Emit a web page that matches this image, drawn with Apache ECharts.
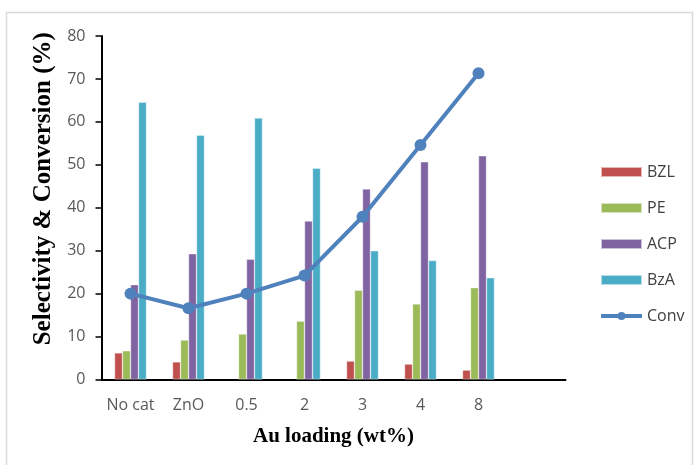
<!DOCTYPE html>
<html>
<head>
<meta charset="utf-8">
<script src="https://cdn.jsdelivr.net/npm/echarts@6/dist/echarts.min.js"></script>
<style>
  html, body { margin: 0; padding: 0; background: #fff; }
  #chart { width: 694px; height: 465px; }
</style>
</head>
<body>
<div id="chart"></div>
<script>
// Catalyst / Au loading categories (last slot left empty on purpose)
const categories = ["No cat", "ZnO", "0.5", "2", "3", "4", "8", ""];

// Product selectivities (%)
const bzl = [6.2, 4.1, null, null, 4.3, 3.6, 2.2, null];
const pe  = [6.7, 9.2, 10.6, 13.6, 20.8, 17.6, 21.4, null];
const acp = [22.1, 29.3, 28.0, 36.9, 44.4, 50.7, 52.1, null];
const bza = [64.6, 56.9, 60.9, 49.2, 30.0, 27.7, 23.7, null];

// Conversion (%)
const conv = [20.0, 16.6, 20.0, 24.2, 37.9, 54.6, 71.3, null];

// Y axis range
const yMin = 0, yMax = 80, yStep = 10;

const labelFont = "'Open Sans', 'Liberation Sans', sans-serif";
const titleFont = "'Liberation Serif', 'DejaVu Serif', serif";

function barSeries(name, data, color) {
  return {
    name: name,
    type: 'bar',
    data: data,
    barWidth: 8,
    barGap: '0%',
    itemStyle: { color: color, borderColor: 'rgba(255,255,255,0.6)', borderWidth: 0.6 }
  };
}

const chart = echarts.init(document.getElementById('chart'), null, { renderer: 'canvas' });
chart.setOption({
  animation: false,
  backgroundColor: '#ffffff',
  graphic: [{
    type: 'rect',
    shape: { x: 6.5, y: 12.5, width: 686, height: 470 },
    style: { fill: 'none', stroke: '#d9d9d9', lineWidth: 1.5 },
    silent: true
  }],
  grid: { left: 101.5, right: 128.5, top: 36, bottom: 85.5, containLabel: false },
  legend: {
    orient: 'vertical',
    left: 594,
    top: 159,
    itemWidth: 41,
    itemHeight: 10,
    itemGap: 20,
    textStyle: { fontFamily: labelFont, fontSize: 16, color: '#404040', lineHeight: 16 },
    data: [
      { name: 'BZL', icon: 'rect' },
      { name: 'PE', icon: 'rect' },
      { name: 'ACP', icon: 'rect' },
      { name: 'BzA', icon: 'rect' },
      { name: 'Conv', lineStyle: { width: 4 } }
    ]
  },
  xAxis: {
    type: 'category',
    data: categories,
    boundaryGap: true,
    name: 'Au loading (wt%)',
    nameLocation: 'middle',
    nameGap: 47,
    nameTextStyle: { fontFamily: titleFont, fontWeight: 'bold', fontSize: 21, color: '#000' },
    axisLine: { lineStyle: { color: '#000', width: 2 } },
    axisTick: { show: false },
    axisLabel: { fontFamily: labelFont, fontSize: 16, color: '#595959', margin: 18, interval: 0 }
  },
  yAxis: {
    type: 'value',
    min: yMin,
    max: yMax,
    interval: yStep,
    name: 'Selectivity & Conversion (%)',
    nameLocation: 'middle',
    nameGap: 40,
    nameTextStyle: {
      fontFamily: titleFont, fontWeight: 'bold', fontSize: 25, color: '#000',
      padding: [0, 0, 0, 38]
    },
    axisLine: { show: true, lineStyle: { color: '#000', width: 2 } },
    axisTick: { show: true, inside: false, length: 6, lineStyle: { color: '#000', width: 1.5 } },
    splitLine: { show: false },
    axisLabel: { fontFamily: labelFont, fontSize: 16, color: '#595959', margin: 16 }
  },
  series: [
    barSeries('BZL', bzl, '#c0504d'),
    barSeries('PE', pe, '#9bbb59'),
    barSeries('ACP', acp, '#8064a2'),
    barSeries('BzA', bza, '#4bacc6'),
    {
      name: 'Conv',
      type: 'line',
      data: conv,
      symbol: 'circle',
      symbolSize: 12,
      showSymbol: true,
      connectNulls: false,
      lineStyle: { color: '#4f81bd', width: 4 },
      itemStyle: { color: '#4f81bd' },
      z: 5
    }
  ]
});
</script>
</body>
</html>
